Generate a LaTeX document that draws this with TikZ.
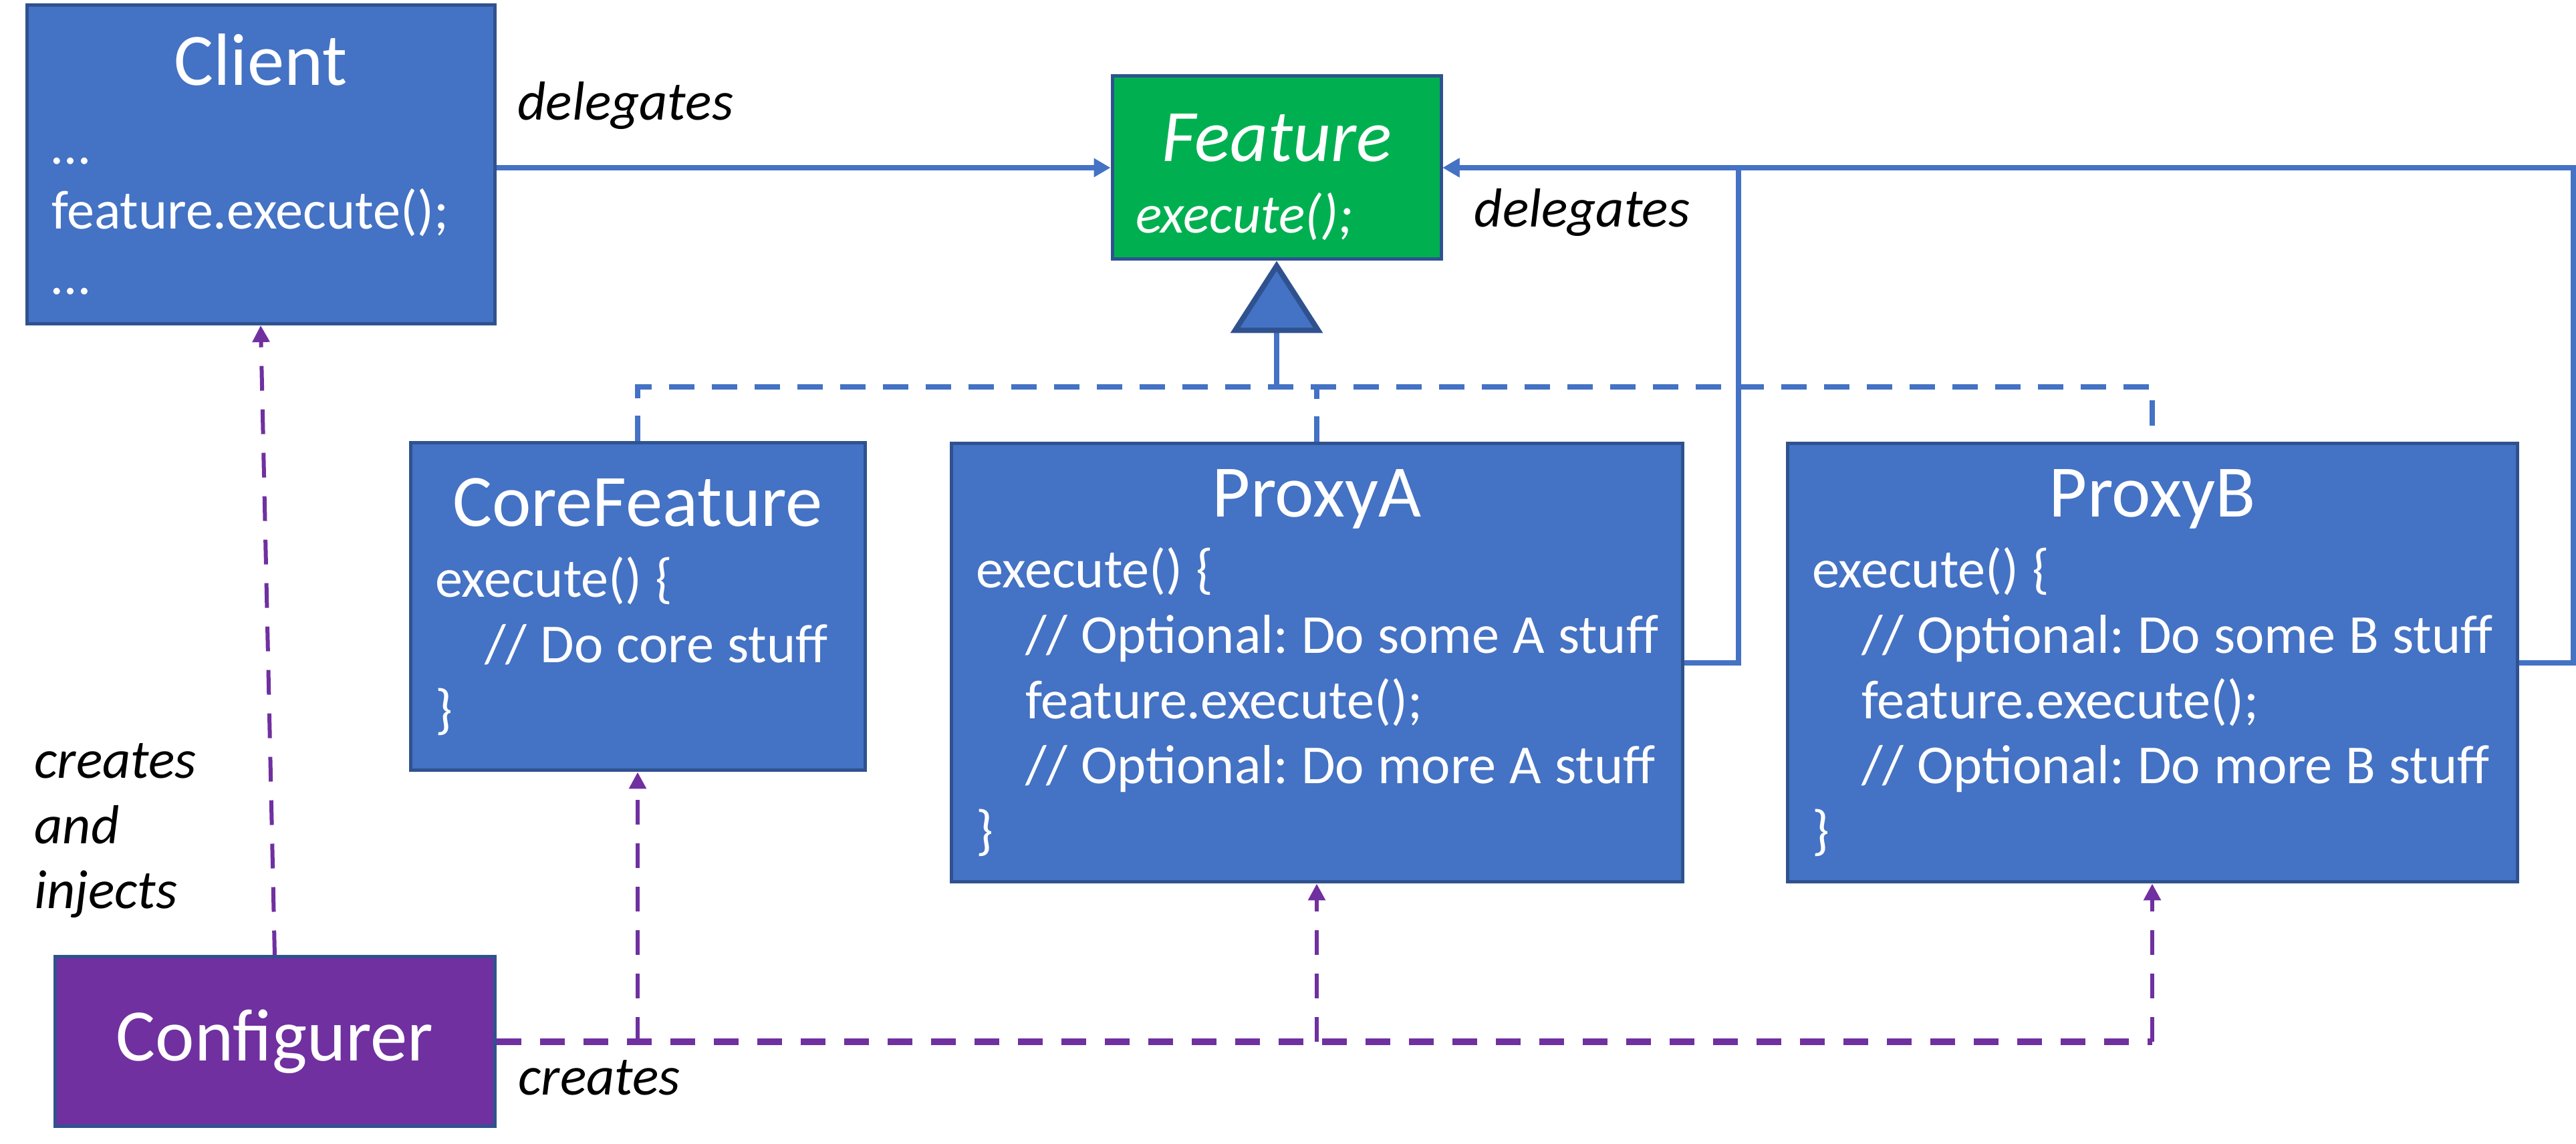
\documentclass[tikz,border=0pt]{standalone}
\usepackage{fontspec}
\setmainfont{Carlito}
\usetikzlibrary{arrows.meta}

\definecolor{boxblue}{HTML}{4472C4}
\definecolor{edgeblue}{HTML}{2F528F}
\definecolor{featgreen}{HTML}{00B050}
\definecolor{cfgpurple}{HTML}{7030A0}

\frenchspacing
\newcommand{\ttl}{\fontsize{31.5}{36}\selectfont}
\newcommand{\bdy}{\fontsize{23.4}{27.8}\selectfont}
\newcommand{\cln}[1]{\mbox{\spaceskip=0.20cm\relax #1}}
\newcommand{\ind}[1]{\cln{\hspace*{0.74cm}#1}}

\tikzset{
	cls/.style={draw=edgeblue, line width=0.05cm, fill=boxblue, text=white, align=left, inner xsep=0.37cm, inner ysep=0pt, font=\bdy},
	lbl/.style={font=\bdy\itshape, inner sep=0pt},
	dlg/.style={boxblue, line width=0.08cm, -{Triangle[length=0.25cm,width=0.27cm]}},
	impl/.style={boxblue, line width=0.08cm, dash pattern=on 0.38cm off 0.26cm},
	gen/.style={boxblue, line width=0.08cm, -{Triangle[length=1.08cm,width=1.37cm,fill=boxblue,color=edgeblue]}},
	mk/.style={cfgpurple, line width=0.06cm, dash pattern=on 0.37cm off 0.28cm, -{Triangle[length=0.25cm,width=0.25cm]}},
	mkbus/.style={cfgpurple, line width=0.1cm, dash pattern=on 0.37cm off 0.28cm}
}

\begin{document}
\begin{tikzpicture}
	\useasboundingbox (0,0) rectangle (38.54,17.12);
	% classes
	\node[cls, text width=6.26cm, minimum height=4.77cm] (cl) at (3.90,14.66) {\makebox[\hsize]{\ttl Client}\\[0.2cm] …\\ feature.execute();\\ …};
	\node[cls, fill=featgreen, inner xsep=0.35cm, text width=4.22cm, minimum height=2.74cm] (fe) at (19.10,14.61) {\makebox[\hsize]{\ttl\itshape\rule{0pt}{0.99cm}Feature}\\[0.09cm] \itshape execute();};
	\node[cls, text width=6.06cm, minimum height=4.90cm] (cf) at (9.54,8.04) {\makebox[\hsize]{\ttl CoreFeature}\\[0.09cm] \cln{execute() \{}\\ \ind{// Do core stuff}\\ \}};
	\node[cls, text width=10.20cm, minimum height=6.56cm] (pa) at (19.70,7.20) {\makebox[\hsize]{\ttl ProxyA}\\[0.09cm] \cln{execute() \{}\\ \ind{// Optional: Do some A stuff}\\ \ind{feature.execute();}\\ \ind{// Optional: Do more A stuff}\\ \}};
	\node[cls, text width=10.18cm, minimum height=6.56cm] (pb) at (32.20,7.20) {\makebox[\hsize]{\ttl ProxyB}\\[0.09cm] \cln{execute() \{}\\ \ind{// Optional: Do some B stuff}\\ \ind{feature.execute();}\\ \ind{// Optional: Do more B stuff}\\ \}};
	\node[cls, fill=cfgpurple, align=center, font=\ttl, minimum width=6.58cm, minimum height=2.54cm] (co) at (4.11,1.53) {Configurer};

	% labels
	\node[lbl, anchor=base west] (dl1) at (7.74,15.32) {delegates};
	\node[lbl, anchor=base west] (dl2) at (22.05,13.72) {delegates};
	\node[lbl, anchor=base west, align=left] (ci) at (0.51,3.52) {creates\\and\\injects};
	\node[lbl, anchor=base west] (cr) at (7.75,0.73) {creates};

	% delegation
	\draw[dlg] (cl.east |- fe.west) -- (fe.west);
	\draw[dlg] (pa.east) -- ++(0.81,0) |- (fe.east);
	\draw[dlg] (pb.east) -- ++(0.81,0) |- (fe.east);

	% realization
	\coordinate (bus) at (19.10,11.33);
	\draw[impl] (cf.north) |- (bus) -| (pb.north);
	\draw[impl] (pa.north) -- (pa.north |- bus);
	\draw[gen] (bus) -- (fe.south);

	% creation
	\draw[mkbus] (co.east) -- (co.east -| pb.south);
	\draw[mk] (co.east -| cf.south) -- (cf.south);
	\draw[mk] (co.east -| pa.south) -- (pa.south);
	\draw[mk] (co.east -| pb.south) -- (pb.south);
	\draw[mk] (co.north) -- (cl.south);
\end{tikzpicture}
\end{document}
